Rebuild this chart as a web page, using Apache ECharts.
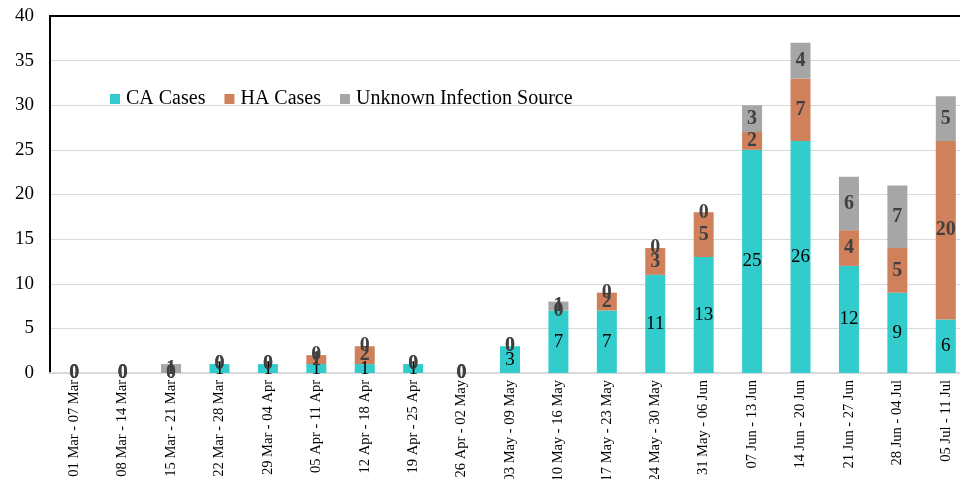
<!DOCTYPE html>
<html><head><meta charset="utf-8">
<script src="https://cdn.jsdelivr.net/npm/echarts@6/dist/echarts.min.js"></script>
<style>html,body{margin:0;padding:0;background:#fff}#c{width:960px;height:479px}</style>
</head><body><div id="c"></div>
<script>
const categories = ["01 Mar - 07 Mar","08 Mar - 14 Mar","15 Mar - 21 Mar","22 Mar - 28 Mar","29 Mar - 04 Apr","05 Apr - 11 Apr","12 Apr - 18 Apr","19 Apr - 25 Apr","26 Apr - 02 May","03 May - 09 May","10 May - 16 May","17 May - 23 May","24 May - 30 May","31 May - 06 Jun","07 Jun - 13 Jun","14 Jun - 20 Jun","21 Jun - 27 Jun","28 Jun - 04 Jul","05 Jul - 11 Jul"];
const caCases = [0,0,0,1,1,1,1,1,0,3,7,7,11,13,25,26,12,9,6];
const haCases = [0,0,0,0,0,1,2,0,0,0,0,2,3,5,2,7,4,5,20];
const unknownCases = [0,0,1,0,0,0,0,0,0,0,1,0,0,0,3,4,6,7,5];
const yTicks = {min:0,max:40,interval:5};

const FONT = '"Liberation Serif","Times New Roman",serif';
const chart = echarts.init(document.getElementById('c'));
function series(name, data, color, labelStyle){
  return {name, type:'bar', stack:'total', data, barWidth:20,
    itemStyle:{color},
    label:Object.assign({show:true, position:'inside', fontFamily:FONT, fontSize:19}, labelStyle)};
}
chart.setOption({
  animation:false,
  textStyle:{fontFamily:FONT},
  legend:{left:105, top:84, itemWidth:10, itemHeight:10, itemGap:19, icon:'rect',
    textStyle:{fontFamily:FONT, fontSize:20, color:'#000', padding:[0,0,0,1]},
    data:['CA Cases','HA Cases','Unknown Infection Source']},
  grid:{left:50, top:16, width:920, height:357, containLabel:false, outerBoundsMode:'none'},
  xAxis:[{type:'category', data:categories,
    axisLine:{show:true, lineStyle:{color:'#d9d9d9', width:2}},
    axisTick:{show:false},
    axisLabel:{rotate:90, interval:0, fontFamily:FONT, fontSize:14.5, color:'#000', margin:7}},
    {type:'category', position:'top', data:categories,
    axisLine:{show:true, lineStyle:{color:'#000', width:2}},
    axisTick:{show:false}, axisLabel:{show:false}}],
  yAxis:{type:'value', min:yTicks.min, max:yTicks.max, interval:yTicks.interval,
    axisLine:{show:true, lineStyle:{color:'#000', width:2}},
    axisTick:{show:false},
    axisLabel:{fontFamily:FONT, fontSize:19, color:'#000', margin:16},
    splitLine:{lineStyle:{color:'#d9d9d9', width:1}}},
  series:[
    series('CA Cases', caCases, '#33CCCC', {color:'#000'}),
    series('HA Cases', haCases, '#D0805A', {color:'#404040', fontWeight:'bold', fontSize:20}),
    series('Unknown Infection Source', unknownCases, '#A6A6A6', {color:'#404040', fontWeight:'bold', fontSize:20})
  ]
});
</script></body></html>
